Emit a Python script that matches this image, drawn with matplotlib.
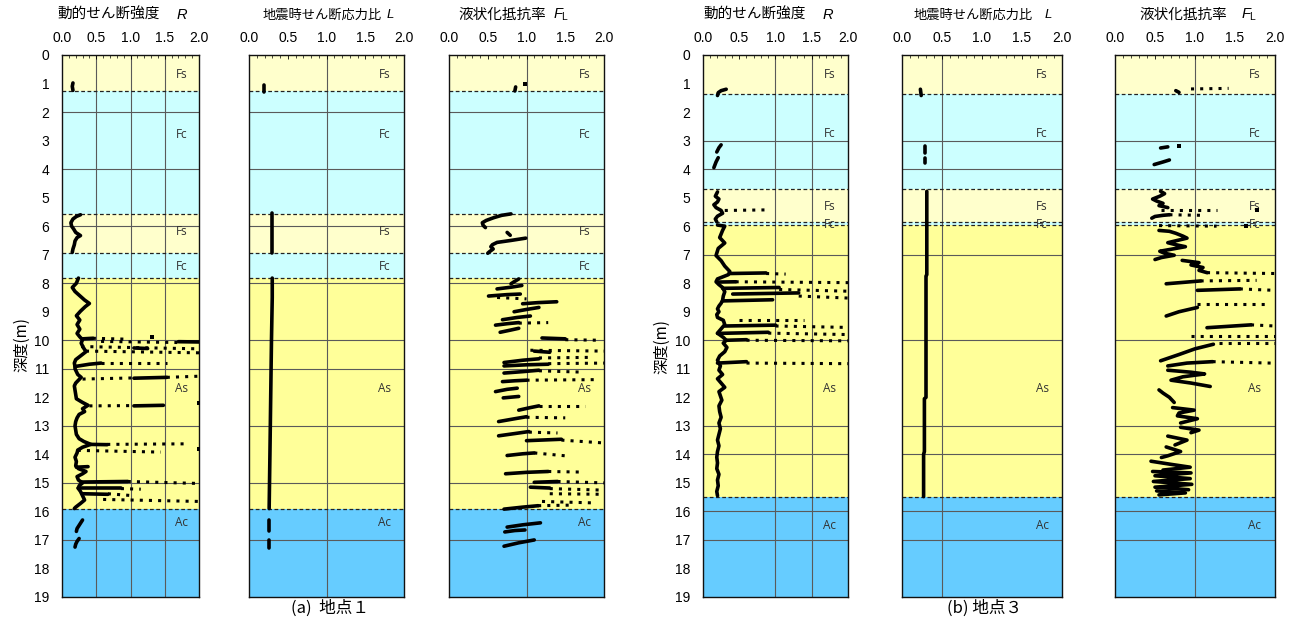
import matplotlib
matplotlib.use('Agg')
import matplotlib.pyplot as plt
import numpy as np

plt.rcParams['font.family'] = ['Liberation Sans', 'Noto Sans CJK JP', 'DejaVu Sans']
plt.rcParams['mathtext.fontset'] = 'custom'
plt.rcParams['mathtext.rm'] = 'Liberation Sans'
plt.rcParams['mathtext.it'] = 'Liberation Sans:italic'

# ---------------- data ----------------
depth_ticks = list(range(0, 20))
x_ticks = [0.0, 0.5, 1.0, 1.5, 2.0]
x_tick_labels = ['0.0', '0.5', '1.0', '1.5', '2.0']

soil_colors = {'Fs': '#FFFFCC', 'Fc': '#CCFFFF', 'As': '#FFFF99', 'Ac': '#66CCFF'}

# site 1 layers (top, bottom, name) and label depths
layers_a = [(0.0, 1.27, 'Fs'), (1.27, 5.58, 'Fc'), (5.58, 6.95, 'Fs'),
            (6.95, 7.82, 'Fc'), (7.82, 15.92, 'As'), (15.92, 19.0, 'Ac')]
label_depth_a = [0.7, 2.8, 6.2, 7.4, 11.7, 16.4]
hgrid_a = [2, 4, 6, 8, 10, 11, 13, 15, 17]

# site 3 layers
layers_b = [(0.0, 1.38, 'Fs'), (1.38, 4.71, 'Fc'), (4.71, 5.84, 'Fs'),
            (5.84, 5.97, 'Fc'), (5.97, 15.5, 'As'), (15.5, 19.0, 'Ac')]
label_depth_b = [0.7, 2.75, 5.3, 5.95, 11.7, 16.5]
hgrid_b = [3, 4, 7, 10, 13, 14, 16, 17]

# --- site 1, dynamic shear strength R : polylines of (depth, value)
R1_lines = [
    [(0.98, 0.16), (1.10, 0.15), (1.24, 0.16)],
    [(5.60, 0.27), (5.66, 0.21), (5.75, 0.16), (5.88, 0.13), (6.00, 0.14), (6.10, 0.17),
     (6.22, 0.20), (6.33, 0.27), (6.40, 0.22), (6.52, 0.19), (6.65, 0.18), (6.80, 0.16), (6.92, 0.15)],
    [(7.82, 0.24), (8.00, 0.21), (8.15, 0.15), (8.29, 0.19), (8.44, 0.26), (8.59, 0.33), (8.71, 0.40),
     (8.82, 0.34), (8.98, 0.27), (9.14, 0.21), (9.29, 0.26), (9.45, 0.22), (9.61, 0.26), (9.76, 0.22),
     (9.88, 0.26), (9.98, 0.30), (10.10, 0.28), (10.25, 0.31), (10.40, 0.35), (10.55, 0.27),
     (10.68, 0.20), (10.80, 0.18), (10.92, 0.19), (11.00, 0.19), (11.10, 0.21), (11.20, 0.23),
     (11.30, 0.28), (11.40, 0.24), (11.50, 0.20), (11.60, 0.18), (11.75, 0.19), (11.90, 0.20),
     (12.05, 0.21), (12.18, 0.30), (12.28, 0.38), (12.40, 0.30), (12.50, 0.33), (12.60, 0.25),
     (12.72, 0.22), (12.85, 0.20), (13.00, 0.19), (13.15, 0.20), (13.30, 0.21), (13.45, 0.25),
     (13.55, 0.32), (13.65, 0.42), (13.75, 0.30), (13.85, 0.23), (13.95, 0.22), (14.10, 0.19),
     (14.25, 0.21), (14.40, 0.20), (14.50, 0.24), (14.60, 0.35), (14.68, 0.30), (14.78, 0.22),
     (14.90, 0.24), (15.00, 0.30), (15.10, 0.25), (15.20, 0.24), (15.30, 0.27), (15.45, 0.30),
     (15.60, 0.33), (15.72, 0.27), (15.85, 0.20), (15.90, 0.18)],
    [(16.30, 0.30), (16.45, 0.26), (16.60, 0.22), (16.70, 0.21)],
    [(16.95, 0.25), (17.05, 0.22), (17.15, 0.20), (17.25, 0.19)],
    [(9.95, 0.30), (9.93, 0.45)],
    [(10.05, 1.70), (10.06, 2.00)],
    [(10.27, 1.05), (10.29, 1.25)],
    [(10.92, 0.19), (10.84, 0.40), (10.80, 0.57)],
    [(11.33, 1.05), (11.30, 1.53)],
    [(12.30, 1.05), (12.28, 1.48)],
    [(13.65, 0.42), (13.66, 0.66)],
    [(14.45, 0.21), (14.43, 0.38)],
    [(14.97, 0.28), (14.95, 0.96)],
    [(15.18, 0.23), (15.18, 0.86)],
    [(15.38, 0.30), (15.40, 0.67)],
]
# dotted rows (depth0, value0, depth1, value1)
R1_dots = [
    (9.93, 0.45, 9.96, 0.92), (10.04, 0.57, 10.08, 1.70), (10.22, 0.28, 10.30, 2.00),
    (10.38, 0.35, 10.44, 2.00), (10.80, 0.57, 10.80, 1.53), (11.36, 0.30, 11.32, 1.05),
    (11.30, 1.53, 11.26, 2.00), (12.30, 0.40, 12.29, 1.05), (13.65, 0.66, 13.63, 1.85),
    (13.86, 0.23, 13.92, 1.44), (14.95, 0.96, 15.02, 2.00), (15.20, 0.86, 15.22, 1.15),
    (15.38, 0.67, 15.45, 1.05), (15.58, 0.60, 15.65, 2.00),
]
R1_spots = [(9.87, 1.32), (12.20, 2.00), (13.80, 2.00)]

# --- site 1, seismic shear stress ratio L
L1_lines = [
    [(1.06, 0.19), (1.28, 0.19)],
    [(5.55, 0.30), (6.95, 0.30)],
    [(7.82, 0.30), (8.50, 0.30), (10.00, 0.29), (12.00, 0.28), (14.00, 0.27), (15.90, 0.26)],
    [(16.30, 0.255), (16.70, 0.255)],
    [(17.00, 0.255), (17.28, 0.255)],
]
L1_dots = []
L1_spots = []

# --- site 1, liquefaction resistance factor FL
F1_lines = [
    [(1.12, 0.86), (1.26, 0.85)],
    [(5.57, 0.80), (5.62, 0.68), (5.70, 0.58), (5.80, 0.48), (5.88, 0.43), (5.97, 0.44), (6.05, 0.47)],
    [(6.22, 0.75), (6.32, 0.79)],
    [(6.42, 0.99), (6.50, 0.80), (6.57, 0.62), (6.65, 0.56), (6.72, 0.54), (6.80, 0.57),
     (6.90, 0.52), (6.95, 0.50)],
    [(7.85, 0.90), (7.95, 0.84), (8.02, 0.80)],
    [(8.20, 0.62), (8.14, 0.80), (8.08, 0.94)],
    [(8.45, 0.51), (8.40, 0.75), (8.38, 0.92)],
    [(8.72, 0.95), (8.68, 1.15), (8.65, 1.39)],
    [(9.00, 0.84), (8.92, 1.00), (8.85, 1.16)],
    [(9.28, 0.69), (9.20, 0.88), (9.15, 1.05)],
    [(9.47, 0.60), (9.42, 0.75), (9.38, 0.90)],
    [(9.72, 0.66), (9.64, 0.80), (9.58, 0.90)],
    [(9.92, 1.20), (9.95, 1.50)],
    [(10.38, 1.10), (10.42, 1.30)],
    [(10.78, 0.71), (10.70, 0.95), (10.65, 1.16)],
    [(10.90, 0.71), (10.86, 1.00), (10.84, 1.28)],
    [(11.15, 0.71), (11.10, 0.95), (11.05, 1.16)],
    [(11.45, 0.69), (11.42, 0.85), (11.40, 1.00)],
    [(11.80, 0.60), (11.72, 0.75), (11.68, 0.88)],
    [(12.02, 0.70), (11.97, 0.90)],
    [(12.45, 0.90), (12.36, 1.05), (12.30, 1.16)],
    [(12.85, 0.64), (12.75, 0.85), (12.68, 1.00)],
    [(13.35, 0.64), (13.27, 0.85), (13.20, 1.03)],
    [(13.52, 1.00), (13.47, 1.45)],
    [(14.04, 0.75), (13.98, 0.95), (13.95, 1.10)],
    [(14.68, 0.73), (14.63, 1.00), (14.60, 1.28)],
    [(14.98, 1.10), (14.95, 1.40)],
    [(15.15, 1.05), (15.18, 1.30)],
    [(15.92, 0.71), (15.85, 0.95), (15.80, 1.15)],
    [(16.55, 0.75), (16.47, 0.95), (16.40, 1.18)],
    [(16.72, 0.72), (16.67, 0.85), (16.65, 0.98)],
    [(17.22, 0.71), (17.10, 0.90), (17.00, 1.10)],
]
F1_dots = [
    (8.50, 0.62, 8.55, 1.00), (9.40, 0.90, 9.38, 1.28), (9.98, 1.50, 10.00, 1.97),
    (10.35, 1.05, 10.38, 2.00), (10.62, 1.16, 10.60, 1.80), (10.82, 1.28, 10.80, 2.00),
    (11.07, 1.16, 11.12, 1.75), (11.40, 1.00, 11.38, 1.90), (12.30, 1.16, 12.30, 1.75),
    (12.70, 1.00, 12.72, 1.50), (13.22, 1.03, 13.25, 1.40), (13.50, 1.45, 13.60, 2.00),
    (13.95, 1.10, 14.05, 1.50), (14.60, 1.28, 14.62, 1.70), (14.95, 1.40, 15.00, 2.00),
    (15.20, 1.30, 15.25, 1.95), (15.38, 1.30, 15.40, 2.00), (15.65, 1.20, 15.70, 1.85),
    (15.80, 1.15, 15.78, 1.55),
]
F1_spots = [(1.03, 0.98)]

# --- site 3, R
R3_lines = [
    [(1.42, 0.20), (1.32, 0.21), (1.25, 0.25), (1.20, 0.32)],
    [(3.15, 0.25), (3.25, 0.22), (3.40, 0.19)],
    [(3.60, 0.21), (3.75, 0.18), (3.95, 0.15)],
    [(4.80, 0.20), (4.95, 0.17), (5.05, 0.22), (5.15, 0.20), (5.25, 0.15), (5.35, 0.18),
     (5.45, 0.25), (5.55, 0.27), (5.65, 0.20), (5.75, 0.17), (5.85, 0.19)],
    [(5.96, 0.20), (6.00, 0.30), (6.15, 0.27), (6.40, 0.23), (6.59, 0.30), (6.78, 0.21),
     (7.03, 0.18), (7.21, 0.25), (7.40, 0.30), (7.59, 0.37), (7.70, 0.35), (7.85, 0.20),
     (7.95, 0.18), (8.05, 0.22), (8.15, 0.27), (8.30, 0.30), (8.45, 0.28), (8.60, 0.27),
     (8.70, 0.25), (8.80, 0.22), (8.90, 0.20), (9.00, 0.22), (9.10, 0.19), (9.20, 0.20),
     (9.30, 0.28), (9.45, 0.30), (9.60, 0.25), (9.75, 0.20), (9.90, 0.28), (10.00, 0.32),
     (10.10, 0.28), (10.25, 0.33), (10.40, 0.30), (10.55, 0.23), (10.70, 0.20), (10.80, 0.22),
     (10.90, 0.24), (11.05, 0.22), (11.20, 0.27), (11.35, 0.20), (11.50, 0.25), (11.65, 0.30),
     (11.80, 0.22), (11.95, 0.24), (12.10, 0.26), (12.30, 0.22), (12.50, 0.23), (12.70, 0.25),
     (12.90, 0.22), (13.10, 0.24), (13.30, 0.22), (13.50, 0.20), (13.70, 0.22), (13.90, 0.20),
     (14.10, 0.19), (14.30, 0.20), (14.50, 0.19), (14.70, 0.22), (14.90, 0.20), (15.10, 0.21),
     (15.30, 0.19), (15.45, 0.20)],
    [(7.66, 0.37), (7.64, 0.87)],
    [(7.96, 0.20), (7.95, 0.45)],
    [(8.18, 0.27), (8.15, 1.05)],
    [(8.38, 0.41), (8.34, 1.32)],
    [(8.62, 0.27), (8.58, 0.96)],
    [(9.50, 0.30), (9.47, 1.00)],
    [(9.76, 0.20), (9.72, 0.90)],
    [(10.00, 0.32), (9.98, 0.60)],
    [(10.80, 0.20), (10.75, 0.60)],
]
R3_dots = [
    (5.45, 0.30, 5.43, 0.87), (7.66, 0.87, 7.68, 1.14), (7.95, 0.45, 7.98, 2.00),
    (8.22, 1.05, 8.28, 2.00), (8.45, 1.32, 8.52, 2.00), (9.28, 0.50, 9.28, 1.40),
    (9.50, 1.00, 9.55, 2.00), (9.75, 0.90, 9.80, 2.00), (10.00, 0.60, 10.02, 2.00),
    (10.80, 0.60, 10.82, 2.00),
]
R3_spots = []

# --- site 3, L
L3_lines = [
    [(1.20, 0.23), (1.42, 0.24)],
    [(3.19, 0.29), (3.44, 0.29)],
    [(3.62, 0.29), (3.80, 0.29)],
    [(4.78, 0.31), (7.70, 0.31), (7.75, 0.30), (12.00, 0.30), (12.05, 0.28), (13.90, 0.28),
     (14.00, 0.27), (15.48, 0.27)],
]
L3_dots = []
L3_spots = []

# --- site 3, FL
F3_lines = [
    [(1.25, 0.76), (1.31, 0.80)],
    [(3.26, 0.57), (3.22, 0.66)],
    [(3.84, 0.49), (3.75, 0.60), (3.68, 0.68)],
    [(4.78, 0.57), (4.86, 0.62), (4.95, 0.56), (5.05, 0.47), (5.12, 0.52), (5.20, 0.60),
     (5.28, 0.55), (5.35, 0.66)],
    [(5.72, 0.46), (5.66, 0.50), (5.62, 0.60), (5.60, 0.68)],
    [(6.15, 0.55), (6.18, 0.68), (6.25, 0.76), (6.35, 0.85), (6.42, 0.90), (6.50, 0.78),
     (6.58, 0.66), (6.65, 0.76), (6.72, 0.88), (6.80, 0.72), (6.88, 0.56), (6.95, 0.62),
     (7.02, 0.74), (7.10, 0.58), (7.17, 0.50)],
    [(7.20, 0.84), (7.28, 1.05), (7.36, 0.95), (7.45, 1.10), (7.55, 1.05), (7.63, 1.15)],
    [(8.02, 0.64), (7.96, 0.90), (7.92, 1.07)],
    [(8.25, 1.03), (8.20, 1.56)],
    [(9.15, 0.64), (9.00, 0.80), (8.85, 1.03)],
    [(9.56, 1.15), (9.46, 1.70)],
    [(10.14, 1.23), (10.30, 1.00), (10.50, 0.80), (10.72, 0.57)],
    [(10.90, 0.66), (10.80, 0.90), (10.75, 1.22)],
    [(11.05, 0.66), (11.12, 0.95), (11.18, 1.12), (11.28, 0.85), (11.40, 0.70), (11.50, 0.95),
     (11.62, 1.19)],
    [(11.74, 0.55), (11.85, 0.60), (12.00, 0.68), (12.18, 0.74)],
    [(12.36, 0.72), (12.45, 0.99), (12.55, 0.80), (12.65, 0.78), (12.75, 1.03), (12.90, 0.82)],
    [(13.05, 0.82), (13.15, 1.05), (13.24, 0.95)],
    [(13.36, 0.66), (13.50, 0.90), (13.67, 0.75)],
    [(13.74, 0.64), (13.90, 0.82), (14.05, 0.66), (14.11, 0.58)],
    [(14.24, 0.45), (14.35, 0.70), (14.45, 0.94), (14.55, 0.60)],
    [(14.60, 0.47), (14.65, 0.95), (14.75, 0.50), (14.85, 0.94), (14.95, 0.48), (15.05, 0.96),
     (15.15, 0.50), (15.24, 0.92)],
    [(15.28, 0.52), (15.35, 0.88), (15.42, 0.55)],
]
F3_dots = [
    (1.19, 0.95, 1.17, 1.42), (5.45, 0.58, 5.45, 1.27), (5.60, 0.68, 5.62, 1.10),
    (5.98, 0.55, 6.00, 1.27), (7.63, 1.15, 7.66, 2.00), (7.92, 1.07, 7.90, 1.77),
    (8.20, 1.56, 8.25, 2.00), (8.74, 1.03, 8.74, 1.90), (9.46, 1.70, 9.50, 2.00),
    (9.85, 0.95, 9.85, 2.00), (10.08, 1.30, 10.08, 2.00), (10.75, 1.22, 10.80, 1.95),
]
F3_spots = [(3.20, 0.80), (5.45, 1.77), (6.00, 1.64)]

# ---------------- layout ----------------
W, H = 1292, 626
fig = plt.figure(figsize=(W / 100, H / 100), dpi=100)
TOP, BOT = 55, 597

panels = [
    # left px, right px, lines, dots, spots, layers, label depths, hgrid, vgrid, show depth labels
    (62, 199, R1_lines, R1_dots, R1_spots, layers_a, label_depth_a, hgrid_a, [0.5, 1.0, 1.5], True),
    (249, 404, L1_lines, L1_dots, L1_spots, layers_a, label_depth_a, hgrid_a, [1.0], False),
    (449, 604, F1_lines, F1_dots, F1_spots, layers_a, label_depth_a, hgrid_a, [1.0], False),
    (703, 848, R3_lines, R3_dots, R3_spots, layers_b, label_depth_b, hgrid_b, [1.0, 1.5], True),
    (902, 1062, L3_lines, L3_dots, L3_spots, layers_b, label_depth_b, hgrid_b, [0.5], False),
    (1115, 1275, F3_lines, F3_dots, F3_spots, layers_b, label_depth_b, hgrid_b, [1.0], False),
]

for (l, r, lines, dots, spots, layers, ldep, hgrid, vgrid, showy) in panels:
    ax = fig.add_axes([l / W, 1 - BOT / H, (r - l) / W, (BOT - TOP) / H])
    ax.set_xlim(0, 2)
    ax.set_ylim(19, 0)
    for (t, b, name) in layers:
        ax.axhspan(t, b, color=soil_colors[name], lw=0, zorder=0)
    for y in hgrid:
        ax.axhline(y, color='#5a5a5a', lw=0.8, zorder=1)
    for x in vgrid:
        ax.axvline(x, color='#5a5a5a', lw=0.8, zorder=1)
    for (t, b, name) in layers[1:]:
        ax.axhline(t, color='#222222', lw=0.9, ls=(0, (3, 2)), zorder=2)
    for (t, b, name), d in zip(layers, ldep):
        ax.text(1.75, d, name, ha='center', va='center', fontsize=8.5, color='#333333',
                family=['Open Sans', 'DejaVu Sans'], zorder=3)
    for seg in lines:
        dd = [p[0] for p in seg]
        vv = [p[1] for p in seg]
        ax.plot(vv, dd, color='black', lw=2.6, solid_capstyle='round',
                solid_joinstyle='round', zorder=4)
    for (d0, v0, d1, v1) in dots:
        ax.plot([v0, v1], [d0, d1], color='black', lw=2.2, ls=(0, (1.0, 2.0)), zorder=4)
    if spots:
        ax.scatter([s[1] for s in spots], [s[0] for s in spots], s=9, marker='s',
                   color='black', lw=0, zorder=4)
    ax.xaxis.tick_top()
    ax.set_xticks(x_ticks)
    ax.set_xticklabels(x_tick_labels)
    ax.set_xticks(np.arange(0, 2.001, 0.1), minor=True)
    ax.tick_params(axis='x', which='major', direction='in', length=3, width=0.6,
                   labelsize=10, pad=7, top=True, bottom=False, labeltop=True, labelbottom=False)
    ax.tick_params(axis='x', which='minor', direction='in', length=2, width=0.5,
                   top=True, bottom=False)
    ax.set_yticks(depth_ticks)
    ax.tick_params(axis='y', which='both', length=0, labelsize=10, pad=9, labelleft=showy)
    for sp in ax.spines.values():
        sp.set_color('#111111')
        sp.set_linewidth(1.0)

# ---------------- titles ----------------
def title(x_jp_right, x_var, text, var, size):
    fig.text(x_jp_right / W, 1 - 15 / H, text, ha='right', va='center', fontsize=size,
             family=['Noto Sans CJK JP', 'DejaVu Sans'])
    fig.text(x_var / W, 1 - 15 / H, var, ha='left', va='center', fontsize=size)

title(160, 176, '動的せん断強度', '$R$', 10.5)
title(382, 386, '地震時せん断応力比', '$L$', 9.5)
title(546, 553, '液状化抵抗率', r'$F_{\mathrm{L}}$', 10.5)
title(806, 822, '動的せん断強度', '$R$', 10.5)
title(1033, 1044, '地震時せん断応力比', '$L$', 9.5)
title(1227, 1241, '液状化抵抗率', r'$F_{\mathrm{L}}$', 10.5)

# depth axis labels
fig.text(22 / W, 1 - 345 / H, '深度(m)', rotation=90, ha='center', va='center', fontsize=11,
         family=['Noto Sans CJK JP', 'DejaVu Sans'])
fig.text(662 / W, 1 - 347 / H, '深度(m)', rotation=90, ha='center', va='center', fontsize=11,
         family=['Noto Sans CJK JP', 'DejaVu Sans'])

# captions
fig.text(330 / W, 1 - 608 / H, '(a)  地点１', ha='center', va='center', fontsize=12,
         family=['Noto Sans CJK JP', 'DejaVu Sans'])
fig.text(985 / W, 1 - 608 / H, '(b) 地点３', ha='center', va='center', fontsize=12,
         family=['Noto Sans CJK JP', 'DejaVu Sans'])

fig.savefig('out.png', dpi=100)
